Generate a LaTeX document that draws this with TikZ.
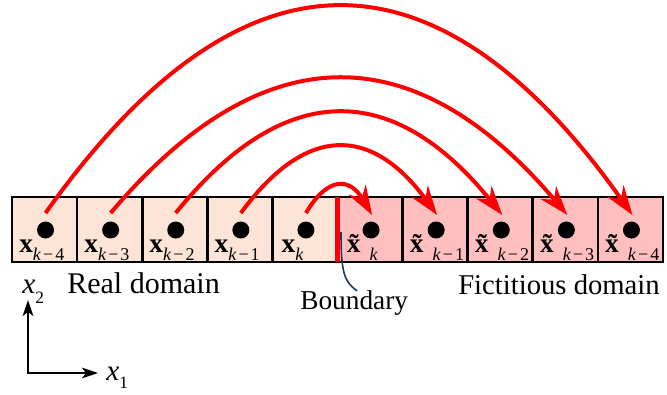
\documentclass[tikz,border=0pt]{standalone}
\usepackage{fontspec}
\setmainfont{Liberation Serif}
\usetikzlibrary{arrows.meta,calc}
\definecolor{realfill}{HTML}{FCE4D6}
\definecolor{fictfill}{HTML}{FFBFBF}
\definecolor{leadblue}{HTML}{1F3864}
% lowered subscript in running text
\newcommand{\lowsub}[2][6pt]{\raisebox{-#1}{\fontsize{13.5}{14}\selectfont #2}}
\newcommand{\km}[1]{\textit{k}\hspace{1.5pt}−\hspace{1.5pt}#1}
\begin{document}
\begin{tikzpicture}[x=0.75pt,y=-0.75pt,
  cell/.style={draw=black, line width=2pt, minimum size=48.8pt, inner sep=0pt, outer sep=0pt},
  realcell/.style={cell, fill=realfill},
  fictcell/.style={cell, fill=fictfill},
  dot/.style={circle, fill=black, minimum size=12.75pt, inner sep=0pt},
  lab/.style={anchor=base west, inner sep=0pt, font=\fontsize{20.5}{21}\selectfont},
  txt/.style={anchor=base west, inner sep=0pt, font=\fontsize{22.5}{24}\selectfont},
  jump/.style={draw=red, line width=3pt, -{Stealth[length=22pt,width=15pt,inset=7pt]}},
  axis/.style={draw=black, line width=1.5pt, {Stealth[length=12pt,width=8pt,inset=3pt]}-{Stealth[length=12pt,width=8pt,inset=3pt]}},
  leader/.style={draw=leadblue, line width=1.2pt}
]
\useasboundingbox (0,0) rectangle (667,394);

% row of ten cells: five real, five fictitious
\foreach \i in {1,...,10}{
  \pgfmathsetmacro{\cx}{12+(\i-0.5)*65.1}
  \ifnum\i<6
    \node[realcell] (c\i) at (\cx,229.5) {};
  \else
    \node[fictcell] (c\i) at (\cx,229.5) {};
  \fi
  \node[dot] (d\i) at (\cx+1,230) {};
  \coordinate (s\i) at (\cx+1,213);
  \coordinate (e\i) at (\cx+2,215);
}

% cell labels
\node[lab] (l1) at ($(c1.west)+(7,22.5)$) {\textbf{x}\lowsub{\km{4}}};
\node[lab] (l2) at ($(c2.west)+(7,22.5)$) {\textbf{x}\lowsub{\km{3}}};
\node[lab] (l3) at ($(c3.west)+(7,22.5)$) {\textbf{x}\lowsub{\km{2}}};
\node[lab] (l4) at ($(c4.west)+(7,22.5)$) {\textbf{x}\lowsub{\km{1}}};
\node[lab] (l5) at ($(c5.west)+(9,22.5)$) {\textbf{x}\lowsub{\textit{k}}};
\node[lab] (l6) at ($(c6.west)+(9,22.5)$) {\textbf{\~{x}}\lowsub{\textit{k}}};
\node[lab] (l7) at ($(c7.west)+(7,22.5)$) {\textbf{\~{x}}\lowsub{\km{1}}};
\node[lab] (l8) at ($(c8.west)+(7,22.5)$) {\textbf{\~{x}}\lowsub{\km{2}}};
\node[lab] (l9) at ($(c9.west)+(7,22.5)$) {\textbf{\~{x}}\lowsub{\km{3}}};
\node[lab] (l10) at ($(c10.west)+(7,22.5)$) {\textbf{\~{x}}\lowsub{\km{4}}};

% mirrored jumps across the boundary (parabolic arcs)
\foreach \i/\j/\h in {1/10/207, 2/9/135, 3/8/101, 4/7/67, 5/6/28}{
  \pgfmathsetmacro{\hw}{((\j-\i)*65.1+1)/2}
  \draw[jump] (s\i) .. controls +(2/3*\hw,-4/3*\h) and +(-2/3*\hw,-4/3*\h) .. (e\j);
}

% domain texts
\node[txt] (real) at (67,293) {Real domain};
\node[anchor=base west, inner sep=0pt, font=\fontsize{21.5}{23}\selectfont] (fict) at (458,294) {Fictitious domain};
\node[anchor=base west, inner sep=0pt, font=\fontsize{20.5}{22}\selectfont] (bnd) at (300,309) {Boundary};

% boundary marker and its leader
\coordinate (bt) at (341,232);
\draw[leader] (bt) .. controls (341,272) and (344,282) .. ($(bnd.north)+(3,1)$);
\draw[red, line width=4pt] (c5.north east) -- (c5.south east);

% coordinate axes
\coordinate (o) at (28,373);
\coordinate (ax2) at (28,300);
\coordinate (ax1) at (98,373);
\draw[axis] (ax2) -- (o) -- (ax1);
\node[anchor=base west, inner sep=0pt, font=\fontsize{22}{24}\selectfont] (x2) at (22,293) {\textit{x}\lowsub[7.5pt]{\fontsize{13}{13}\selectfont 2}};
\node[anchor=base west, inner sep=0pt, font=\fontsize{22}{24}\selectfont] (x1) at (106,380) {\textit{x}\lowsub[6pt]{\fontsize{13}{13}\selectfont 1}};
\end{tikzpicture}
\end{document}
